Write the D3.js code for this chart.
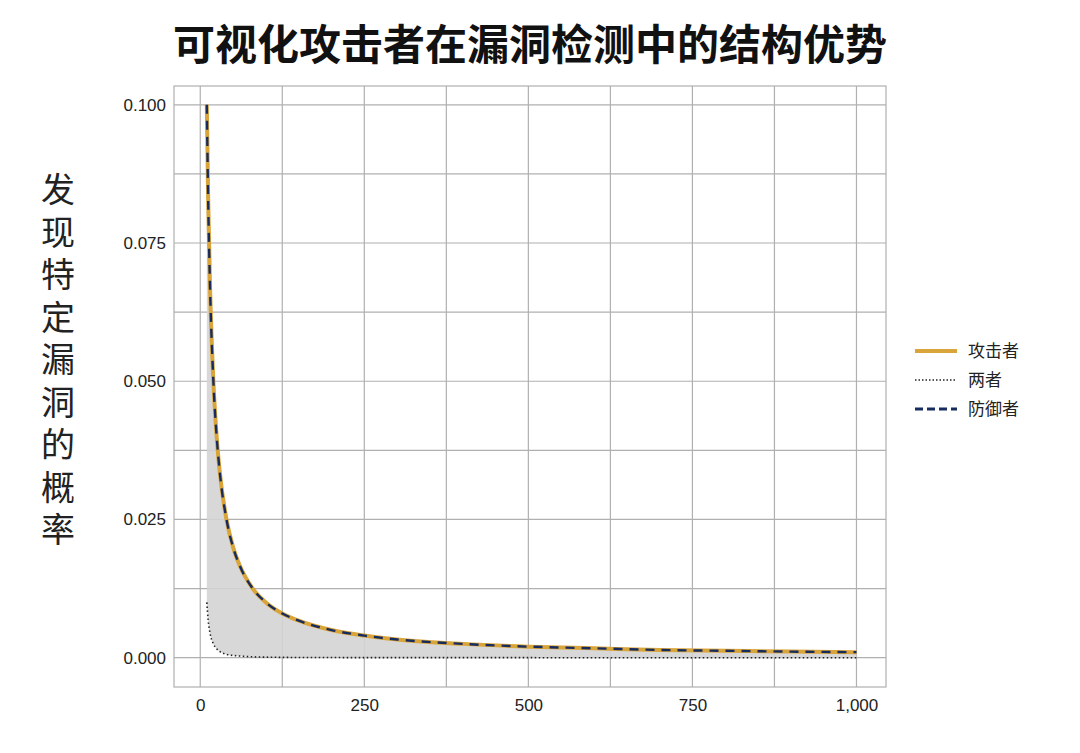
<!DOCTYPE html>
<html><head><meta charset="utf-8">
<script src="https://cdn.jsdelivr.net/npm/d3@7"></script>
<style>body{margin:0;background:#fff}</style>
</head><body>
<svg id="chart" width="1080" height="753"></svg>
<script>
const xVals = [10,12,15,20,25,30,40,50,60,80,100,125,150,200,250,300,400,500,600,700,800,900,1000];
const attacker = [0.1,0.0833,0.0667,0.05,0.04,0.0333,0.025,0.02,0.0167,0.0125,0.01,0.008,0.0067,0.005,0.004,0.0033,0.0025,0.002,0.0017,0.0014,0.00125,0.0011,0.001];
const both = [0.01,0.0069,0.0044,0.0025,0.0016,0.0011,0.0006,0.0004,0.0003,0.00016,0.0001,0.00006,0.00004,0.000025,0.000016,0.000011,0.000006,0.000004,0.000003,0.000002,0.0000016,0.0000012,0.000001];
const xTicks = [0,250,500,750,1000];
const yTicks = [0,0.025,0.05,0.075,0.1];
const legendItems = ["攻击者","两者","防御者"];

const svg = d3.select("#chart");
const font = "'Noto Sans CJK SC', sans-serif";
const L = 174, R = 886, T = 86, B = 687;
const x = d3.scaleLinear().domain([-40, 1045]).range([L, R]);
const y = d3.scaleLinear().domain([-0.0053, 0.1034]).range([B, T]);

// grid
const gx = d3.range(0, 1001, 125), gy = d3.range(0, 0.1001, 0.0125);
svg.append("g").selectAll("line").data(gx).enter().append("line")
  .attr("x1", d => x(d)).attr("x2", d => x(d)).attr("y1", T).attr("y2", B)
  .attr("stroke", "#b0b0b0").attr("stroke-width", 1.2);
svg.append("g").selectAll("line").data(gy).enter().append("line")
  .attr("x1", L).attr("x2", R).attr("y1", d => y(d)).attr("y2", d => y(d))
  .attr("stroke", "#b0b0b0").attr("stroke-width", 1.2);
svg.append("rect").attr("x", L).attr("y", T).attr("width", R - L).attr("height", B - T)
  .attr("fill", "none").attr("stroke", "#b0b0b0").attr("stroke-width", 1.2);

const data = xVals.map((v, i) => ({x: v, a: attacker[i], b: both[i]}));
svg.append("path").datum(data)
  .attr("d", d3.area().x(d => x(d.x)).y0(d => y(d.b)).y1(d => y(d.a)).curve(d3.curveMonotoneX))
  .attr("fill", "#d4d4d4").attr("opacity", 0.9);

const line = k => d3.line().x(d => x(d.x)).y(d => y(d[k])).curve(d3.curveMonotoneX);
svg.append("path").datum(data).attr("d", line("b")).attr("fill", "none")
  .attr("stroke", "#222").attr("stroke-width", 1.6).attr("stroke-dasharray", "1.5,2.5");
svg.append("path").datum(data).attr("d", line("a")).attr("fill", "none")
  .attr("stroke", "#d9a43a").attr("stroke-width", 4);
svg.append("path").datum(data).attr("d", line("a")).attr("fill", "none")
  .attr("stroke", "#172c5e").attr("stroke-width", 2.4).attr("stroke-dasharray", "9,7");

// axes
const xa = svg.append("g").attr("transform", `translate(0,${B})`)
  .call(d3.axisBottom(x).tickValues(xTicks).tickSize(0).tickPadding(12).tickFormat(d3.format(",")));
const ya = svg.append("g").attr("transform", `translate(${L},0)`)
  .call(d3.axisLeft(y).tickValues(yTicks).tickSize(0).tickPadding(8).tickFormat(d3.format(".3f")));
[xa, ya].forEach(a => {
  a.select(".domain").remove();
  a.selectAll("text").attr("font-family", "'Liberation Sans', Arial, sans-serif").attr("font-size", 17).attr("fill", "#222");
});

// title
svg.append("text").attr("x", 530).attr("y", 60).attr("text-anchor", "middle")
  .attr("font-family", font).attr("font-weight", "bold").attr("font-size", 42).attr("fill", "#111")
  .text("可视化攻击者在漏洞检测中的结构优势");

// y label (vertical characters)
const ylab = "发现特定漏洞的概率";
svg.append("g").selectAll("text").data(ylab.split("")).enter().append("text")
  .attr("x", 58).attr("y", (d, i) => 202 + i * 42.5).attr("text-anchor", "middle")
  .attr("font-family", font).attr("font-size", 34).attr("fill", "#222").text(d => d);

// legend
const lg = svg.append("g").attr("transform", "translate(915,351)");
legendItems.forEach((t, i) => {
  const g = lg.append("g").attr("transform", `translate(0,${i * 29})`);
  const ln = g.append("line").attr("x1", 0).attr("x2", 42).attr("y1", 0).attr("y2", 0);
  if (i === 0) ln.attr("stroke", "#d9a43a").attr("stroke-width", 4);
  if (i === 1) ln.attr("stroke", "#222").attr("stroke-width", 1.6).attr("stroke-dasharray", "1.5,2");
  if (i === 2) ln.attr("stroke", "#172c5e").attr("stroke-width", 3).attr("stroke-dasharray", "8,4");
  g.append("text").attr("x", 53).attr("y", 6).attr("font-family", font).attr("font-size", 17)
    .attr("fill", "#222").text(t);
});
</script>
</body></html>
